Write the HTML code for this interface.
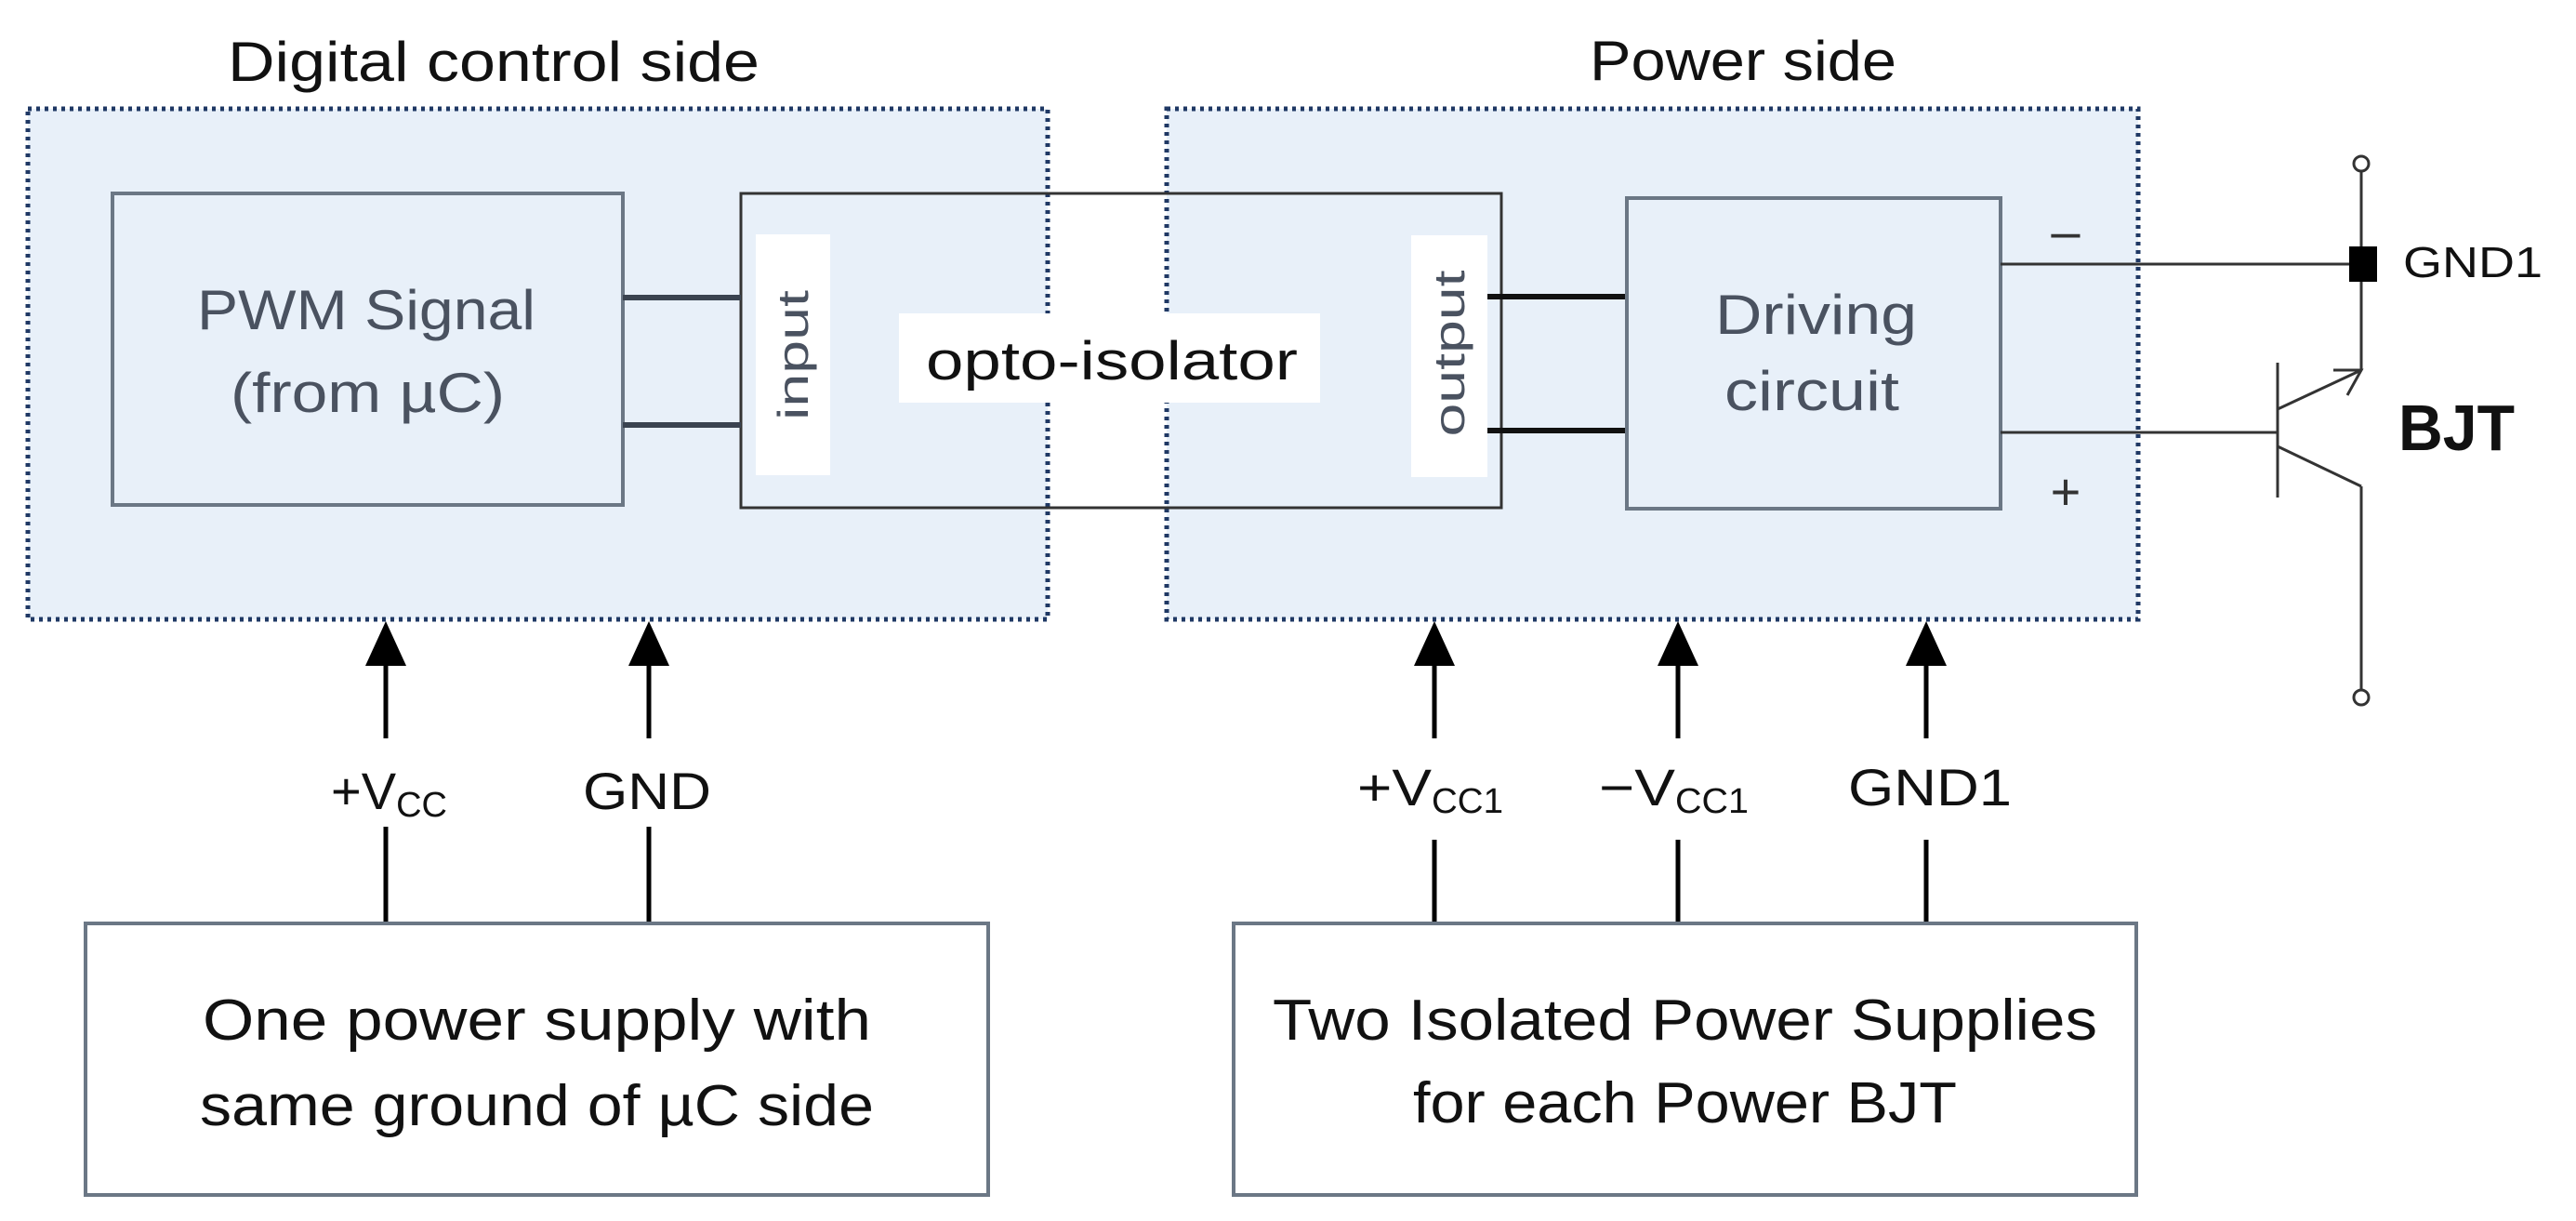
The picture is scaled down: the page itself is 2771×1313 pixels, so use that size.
<!DOCTYPE html>
<html><head><meta charset="utf-8"><style>
html,body{margin:0;padding:0;background:#fff;}
svg{display:block;}
text{font-family:"Liberation Sans",sans-serif;}
</style></head><body>
<svg width="2771" height="1313" viewBox="0 0 2771 1313" xmlns="http://www.w3.org/2000/svg">
<!-- dotted group boxes -->
<rect x="30" y="117" width="1097" height="549" fill="#e8f0f9" stroke="#1f3864" stroke-width="5" stroke-dasharray="4,5"/>
<rect x="1255" y="117" width="1045" height="549" fill="#e8f0f9" stroke="#1f3864" stroke-width="5" stroke-dasharray="4,5"/>
<!-- titles -->
<text x="245" y="87" font-size="60" textLength="572" lengthAdjust="spacingAndGlyphs" fill="#111">Digital control side</text>
<text x="1710" y="86" font-size="60" textLength="330" lengthAdjust="spacingAndGlyphs" fill="#111">Power side</text>
<!-- PWM box -->
<rect x="121" y="208" width="549" height="335" fill="#e8f0f9" stroke="#6b7785" stroke-width="4"/>
<text x="212" y="354" font-size="60" textLength="364" lengthAdjust="spacingAndGlyphs" fill="#4a5260">PWM Signal</text>
<text x="248" y="443" font-size="60" textLength="295" lengthAdjust="spacingAndGlyphs" fill="#4a5260">(from µC)</text>
<!-- opto box -->
<rect x="797" y="208" width="818" height="338" fill="none" stroke="#333" stroke-width="3"/>
<line x1="670" y1="320" x2="797" y2="320" stroke="#3a4350" stroke-width="6"/>
<line x1="670" y1="457" x2="797" y2="457" stroke="#3a4350" stroke-width="6"/>
<rect x="813" y="252" width="80" height="259" fill="#fff"/>
<text transform="translate(869,382) rotate(-90)" text-anchor="middle" font-size="46" textLength="140" lengthAdjust="spacingAndGlyphs" fill="#4a5260">input</text>
<rect x="1518" y="253" width="82" height="260" fill="#fff"/>
<text transform="translate(1575,380) rotate(-90)" text-anchor="middle" font-size="46" textLength="179" lengthAdjust="spacingAndGlyphs" fill="#4a5260">output</text>
<rect x="967" y="337" width="453" height="96" fill="#fff"/>
<text x="996" y="408" font-size="58" textLength="400" lengthAdjust="spacingAndGlyphs" fill="#111">opto-isolator</text>
<!-- driving circuit -->
<line x1="1600" y1="319" x2="1750" y2="319" stroke="#111" stroke-width="6"/>
<line x1="1600" y1="463" x2="1750" y2="463" stroke="#111" stroke-width="6"/>
<rect x="1750" y="213" width="402" height="334" fill="#e8f0f9" stroke="#6b7785" stroke-width="4"/>
<text x="1845" y="359" font-size="60" textLength="217" lengthAdjust="spacingAndGlyphs" fill="#4a5260">Driving</text>
<text x="1855" y="441" font-size="60" textLength="188" lengthAdjust="spacingAndGlyphs" fill="#4a5260">circuit</text>
<text x="2222" y="268" font-size="56" text-anchor="middle" fill="#333">–</text>
<text x="2222" y="548" font-size="56" text-anchor="middle" fill="#333">+</text>
<line x1="2152" y1="284" x2="2540" y2="284" stroke="#333" stroke-width="3"/>
<line x1="2152" y1="465" x2="2450" y2="465" stroke="#333" stroke-width="3"/>
<!-- BJT -->
<circle cx="2540" cy="176" r="8" fill="#fff" stroke="#333" stroke-width="3"/>
<line x1="2540" y1="184" x2="2540" y2="398" stroke="#333" stroke-width="3"/>
<rect x="2527" y="265" width="30" height="38" fill="#000"/>
<text x="2585" y="298" font-size="46" textLength="150" lengthAdjust="spacingAndGlyphs" fill="#111">GND1</text>
<line x1="2450" y1="390" x2="2450" y2="535" stroke="#333" stroke-width="3"/>
<line x1="2450" y1="440" x2="2540" y2="398" stroke="#333" stroke-width="3"/>
<polyline points="2510,398 2540,398 2525,425" fill="none" stroke="#333" stroke-width="3"/>
<line x1="2450" y1="480" x2="2540" y2="523" stroke="#333" stroke-width="3"/>
<line x1="2540" y1="523" x2="2540" y2="742" stroke="#333" stroke-width="3"/>
<circle cx="2540" cy="750" r="8" fill="#fff" stroke="#333" stroke-width="3"/>
<text x="2580" y="484" font-size="70" font-weight="bold" textLength="125" lengthAdjust="spacingAndGlyphs" fill="#111">BJT</text>
<!-- arrows -->
<g stroke="#000" stroke-width="5" fill="#000">
<line x1="415" y1="710" x2="415" y2="794"/><polygon points="415,668 393,716 437,716" stroke="none"/><line x1="415" y1="889" x2="415" y2="993"/>
<line x1="698" y1="710" x2="698" y2="794"/><polygon points="698,668 676,716 720,716" stroke="none"/><line x1="698" y1="889" x2="698" y2="993"/>
<line x1="1543" y1="710" x2="1543" y2="794"/><polygon points="1543,668 1521,716 1565,716" stroke="none"/><line x1="1543" y1="903" x2="1543" y2="993"/>
<line x1="1805" y1="710" x2="1805" y2="794"/><polygon points="1805,668 1783,716 1827,716" stroke="none"/><line x1="1805" y1="903" x2="1805" y2="993"/>
<line x1="2072" y1="710" x2="2072" y2="794"/><polygon points="2072,668 2050,716 2094,716" stroke="none"/><line x1="2072" y1="903" x2="2072" y2="993"/>
</g>
<!-- bottom labels -->
<text x="356" y="870" font-size="56" fill="#111">+V<tspan font-size="38" dy="8">CC</tspan></text>
<text x="627" y="870" font-size="56" textLength="138" lengthAdjust="spacingAndGlyphs" fill="#111">GND</text>
<text x="1460" y="866" font-size="56" textLength="80" lengthAdjust="spacingAndGlyphs" fill="#111">+V</text><text x="1540" y="874" font-size="38" textLength="77" lengthAdjust="spacingAndGlyphs" fill="#111">CC1</text>
<text x="1720" y="866" font-size="56" textLength="82" lengthAdjust="spacingAndGlyphs" fill="#111">−V</text><text x="1802" y="874" font-size="38" textLength="79" lengthAdjust="spacingAndGlyphs" fill="#111">CC1</text>
<text x="1988" y="866" font-size="56" textLength="176" lengthAdjust="spacingAndGlyphs" fill="#111">GND1</text>
<!-- bottom boxes -->
<rect x="92" y="993" width="971" height="292" fill="#fff" stroke="#6b7785" stroke-width="4"/>
<text x="218" y="1118" font-size="62" textLength="719" lengthAdjust="spacingAndGlyphs" fill="#111">One power supply with</text>
<text x="215" y="1210" font-size="62" textLength="725" lengthAdjust="spacingAndGlyphs" fill="#111">same ground of µC side</text>
<rect x="1327" y="993" width="971" height="292" fill="#fff" stroke="#6b7785" stroke-width="4"/>
<text x="1369" y="1118" font-size="62" textLength="887" lengthAdjust="spacingAndGlyphs" fill="#111">Two Isolated Power Supplies</text>
<text x="1520" y="1207" font-size="62" textLength="585" lengthAdjust="spacingAndGlyphs" fill="#111">for each Power BJT</text>
</svg>
</body></html>
